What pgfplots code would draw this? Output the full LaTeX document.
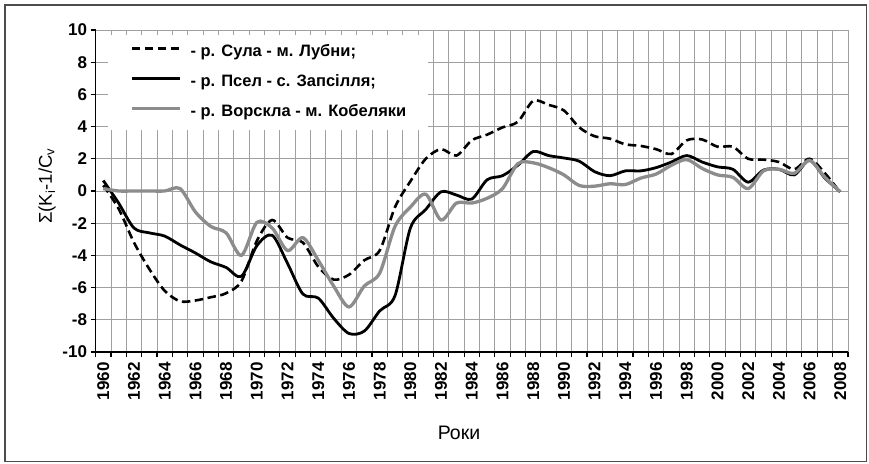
\documentclass[border=0pt]{standalone}
\usepackage{pgfplots}
\pgfplotsset{compat=1.18}
\usepackage{fontspec}
\setmainfont{Liberation Sans}
\definecolor{gridc}{RGB}{160,160,160}
\definecolor{serg}{RGB}{140,140,140}
\begin{document}
\begin{tikzpicture}[x=1pt,y=1pt]
\useasboundingbox (0,0) rectangle (869,463);
\draw[line width=1.2pt, black!70] (5,1.5) rectangle (866.5,458);
\begin{axis}[
  at={(95.6pt,111pt)}, anchor=south west,
  scale only axis, width=752.4pt, height=322pt,
  xmin=1959.5, xmax=2008.5, ymin=-10, ymax=10,
  axis lines*=left,
  axis line style={black, line width=1.3pt},
  xtick={1960,1962,...,2008},
  xticklabels={1960,1962,1964,1966,1968,1970,1972,1974,1976,1978,1980,1982,1984,1986,1988,1990,1992,1994,1996,1998,2000,2002,2004,2006,2008},
  minor xtick={1959.5,1960.5,...,2008.6},
  ytick={-10,-8,...,10},
  xmajorgrids=false, xminorgrids=true, ymajorgrids=true,
  grid style={gridc, line width=0.9pt},
  minor grid style={gridc, line width=0.9pt},
  tick align=outside,
  major tick length=5pt, minor tick length=5pt,
  major x tick style={draw=none},
  minor x tick style={black, line width=1.1pt},
  ytick style={black, line width=1.1pt},
  /pgf/number format/assume math mode=true,
  ticklabel style={font=\bfseries\fontsize{17}{17}\selectfont},
  x tick label style={rotate=90, anchor=east},
  xticklabel shift=2pt,
  yticklabel style={/pgf/number format/fixed},
  legend style={at={(rel axis cs:0.0165,0.984)}, anchor=north west,
    draw=none, fill=white, inner xsep=22pt, inner ysep=9.5pt,
    font=\bfseries\fontsize{16.5}{16.5}\selectfont,
    nodes={inner sep=0pt, text height=12pt, text depth=4pt},
    row sep=14pt, column sep=9pt},
  legend cell align=left,
  legend image code/.code={\draw[#1] (0pt,4.5pt) -- (48pt,4.5pt);},
]
\addplot[black, line width=2.6pt, dash pattern=on 8.5pt off 4.5pt, smooth] coordinates {
(1960,0.35) (1961,-1.1) (1962,-3.2) (1963,-4.85) (1964,-6.2) (1965,-6.85) (1966,-6.8) (1967,-6.6) (1968,-6.35) (1969,-5.6)
(1970,-3.1) (1971,-1.8) (1972,-2.9) (1973,-3.2) (1974,-4.7) (1975,-5.5) (1976,-5.2) (1977,-4.3) (1978,-3.7) (1979,-1.0)
(1980,0.6) (1981,2.0) (1982,2.6) (1983,2.2) (1984,3.15) (1985,3.5) (1986,3.95) (1987,4.3) (1988,5.6) (1989,5.35)
(1990,5.0) (1991,3.95) (1992,3.4) (1993,3.25) (1994,2.9) (1995,2.8) (1996,2.6) (1997,2.3) (1998,3.15) (1999,3.2)
(2000,2.75) (2001,2.75) (2002,2.0) (2003,1.95) (2004,1.8) (2005,1.35) (2006,2.0) (2007,1.1) (2008,-0.1)};
\addlegendentry{- р. Сула - м. Лубни;}
\addplot[black, line width=2.8pt, smooth] coordinates {
(1960,0.65) (1961,-0.75) (1962,-2.3) (1963,-2.6) (1964,-2.8) (1965,-3.35) (1966,-3.85) (1967,-4.4) (1968,-4.75) (1969,-5.3)
(1970,-3.4) (1971,-2.75) (1972,-4.5) (1973,-6.4) (1974,-6.65) (1975,-7.9) (1976,-8.85) (1977,-8.7) (1978,-7.45) (1979,-6.5)
(1980,-2.3) (1981,-1.15) (1982,-0.05) (1983,-0.25) (1984,-0.5) (1985,0.7) (1986,0.95) (1987,1.6) (1988,2.45) (1989,2.2)
(1990,2.05) (1991,1.85) (1992,1.2) (1993,0.95) (1994,1.25) (1995,1.25) (1996,1.45) (1997,1.8) (1998,2.2) (1999,1.8)
(2000,1.5) (2001,1.35) (2002,0.55) (2003,1.3) (2004,1.35) (2005,1.0) (2006,1.9) (2007,0.8) (2008,-0.05)};
\addlegendentry{- р. Псел - с. Запсілля;}
\addplot[serg, line width=3.3pt, smooth] coordinates {
(1960,0.15) (1961,0.0) (1962,0.0) (1963,0.0) (1964,0.0) (1965,0.15) (1966,-1.3) (1967,-2.2) (1968,-2.6) (1969,-4.0)
(1970,-1.95) (1971,-2.3) (1972,-3.7) (1973,-2.9) (1974,-4.3) (1975,-5.9) (1976,-7.2) (1977,-5.9) (1978,-5.1) (1979,-2.2)
(1980,-1.0) (1981,-0.2) (1982,-1.8) (1983,-0.75) (1984,-0.75) (1985,-0.45) (1986,0.15) (1987,1.7) (1988,1.75) (1989,1.45)
(1990,1.0) (1991,0.34) (1992,0.3) (1993,0.45) (1994,0.4) (1995,0.8) (1996,1.05) (1997,1.6) (1998,1.95) (1999,1.4)
(2000,1.0) (2001,0.85) (2002,0.15) (2003,1.25) (2004,1.35) (2005,1.1) (2006,1.9) (2007,0.85) (2008,-0.05)};
\addlegendentry{- р. Ворскла - м. Кобеляки}
\end{axis}
\node[rotate=90, font=\fontsize{18.5}{18.5}\selectfont] at (47,277) {Σ(K\textsubscript{i}-1/C\textsubscript{v}};
\node[font=\fontsize{19.5}{19.5}\selectfont] at (459,30) {Роки};
\end{tikzpicture}
\end{document}
